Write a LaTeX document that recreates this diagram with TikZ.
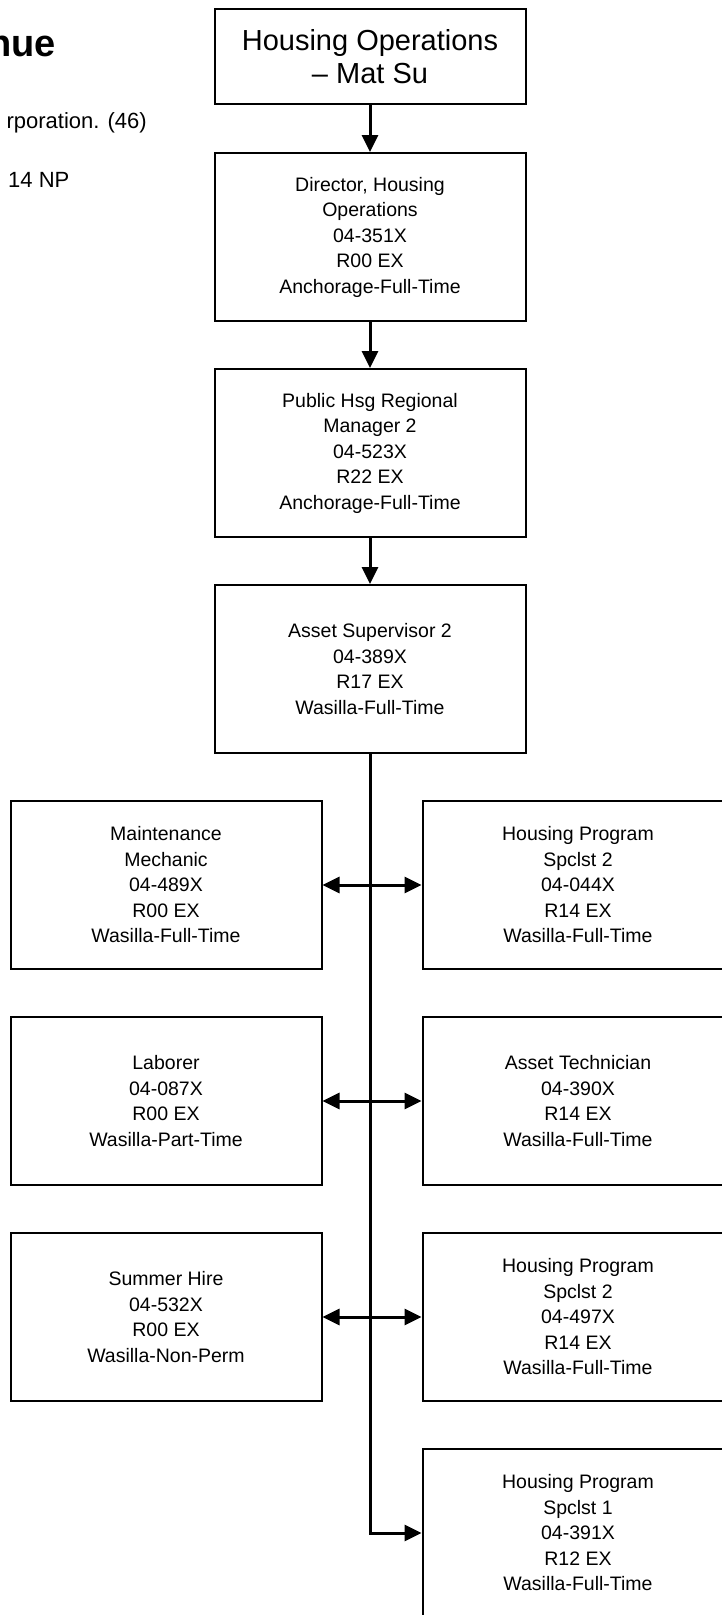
\documentclass[tikz,border=0pt]{standalone}
\usepackage{fontspec}
\setmainfont{Liberation Sans}
\usetikzlibrary{arrows.meta, positioning}

\tikzset{
  posbox/.style={draw=black, line width=2pt, fill=white, minimum width=311pt,
    minimum height=168pt, inner sep=0pt, align=center,
    font=\fontsize{19.5}{25.5}\selectfont},
  headbox/.style={posbox, minimum height=95pt, font=\fontsize{29}{33}\selectfont},
  link/.style={line width=3pt},
  >={Triangle[length=17pt,width=16pt]},
}

\begin{document}
\begin{tikzpicture}[x=1pt, y=-1pt]
  \useasboundingbox (0,0) rectangle (722,1615);
  \fill[white] (0,0) rectangle (722,1615);
  \clip (0,0) rectangle (722,1615);

  % page text left of the chart
  \node[anchor=east, inner sep=0pt, font=\bfseries\fontsize{38}{42}\selectfont] (pghead) at (56,46) {nue};
  \node[anchor=east, inner sep=0pt, font=\fontsize{22}{26}\selectfont] (pgline) at (147,123) {rporation. (46)};
  \node[anchor=west, inner sep=0pt, font=\fontsize{22}{26}\selectfont] (pgcount) at (8,180) {14 NP};

  % main column
  \node[headbox] (title) at (370,56.5) {Housing Operations\\\textendash{} Mat Su};
  \node[posbox] (dir) at (370,237) {Director, Housing\\Operations\\04-351X\\R00 EX\\Anchorage-Full-Time};
  \node[posbox] (mgr) at (370,453) {Public Hsg Regional\\Manager 2\\04-523X\\R22 EX\\Anchorage-Full-Time};
  \node[posbox] (asup) at (370,669) {Asset Supervisor 2\\04-389X\\R17 EX\\Wasilla-Full-Time};

  % left column
  \node[posbox] (maint) at (166,885) {Maintenance\\Mechanic\\04-489X\\R00 EX\\Wasilla-Full-Time};
  \node[posbox] (labor) at (166,1101) {Laborer\\04-087X\\R00 EX\\Wasilla-Part-Time};
  \node[posbox] (summer) at (166,1317) {Summer Hire\\04-532X\\R00 EX\\Wasilla-Non-Perm};

  % right column
  \node[posbox] (hps2a) at (578,885) {Housing Program\\Spclst 2\\04-044X\\R14 EX\\Wasilla-Full-Time};
  \node[posbox] (atech) at (578,1101) {Asset Technician\\04-390X\\R14 EX\\Wasilla-Full-Time};
  \node[posbox] (hps2b) at (578,1317) {Housing Program\\Spclst 2\\04-497X\\R14 EX\\Wasilla-Full-Time};
  \node[posbox] (hps1) at (578,1533) {Housing Program\\Spclst 1\\04-391X\\R12 EX\\Wasilla-Full-Time};

  \draw[link, ->] (title) -- (dir);
  \draw[link, ->] (dir) -- (mgr);
  \draw[link, ->] (mgr) -- (asup);
  \draw[link, ->] (asup.south) |- (hps1.west);
  \foreach \l/\r in {maint/hps2a, labor/atech, summer/hps2b}
    \draw[link, <->] (\l) -- (\r);
\end{tikzpicture}
\end{document}
